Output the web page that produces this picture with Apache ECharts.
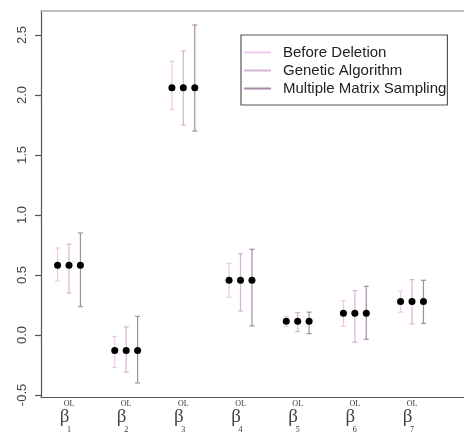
<!DOCTYPE html>
<html><head><meta charset="utf-8">
<script src="https://cdn.jsdelivr.net/npm/echarts@6/dist/echarts.min.js"></script>
<style>html,body{margin:0;padding:0;background:#fff}#c{width:464px;height:434px}</style>
</head><body><div id="c"></div>
<script>
var categories = ['1','2','3','4','5','6','7'];
var seriesNames = ['Before Deletion','Genetic Algorithm','Multiple Matrix Sampling'];
var bdEst  = [0.58, -0.13, 2.06, 0.456, 0.114, 0.18, 0.278];
var bdLow  = [0.45, -0.27, 1.88, 0.314, 0.07, 0.072, 0.19];
var bdHigh = [0.725, -0.014, 2.28, 0.597, 0.153, 0.286, 0.364];
var gaEst  = [0.58, -0.13, 2.06, 0.456, 0.114, 0.18, 0.278];
var gaLow  = [0.35, -0.31, 1.75, 0.20, 0.028, -0.061, 0.092];
var gaHigh = [0.756, 0.067, 2.367, 0.678, 0.186, 0.37, 0.461];
var mmsEst  = [0.58, -0.13, 2.06, 0.456, 0.114, 0.18, 0.278];
var mmsLow  = [0.236, -0.40, 1.70, 0.075, 0.011, -0.036, 0.097];
var mmsHigh = [0.85, 0.155, 2.583, 0.714, 0.19, 0.406, 0.456];
var yTicks = [-0.5, 0, 0.5, 1.0, 1.5, 2.0, 2.5];

var colors = ['#f2c6ee', '#d9b2d6', '#a58ca5'];
var offsets = [-0.2, 0, 0.2];
var ests = [bdEst, gaEst, mmsEst], lows = [bdLow, gaLow, mmsLow], highs = [bdHigh, gaHigh, mmsHigh];

var chart = echarts.init(document.getElementById('c'), null, {renderer: 'canvas'});
var series = [];
seriesNames.forEach(function (name, s) {
  var data = categories.map(function (c, i) { return [i + 1 + offsets[s], lows[s][i], highs[s][i]]; });
  series.push({
    name: name, type: 'custom', itemStyle: {color: colors[s]},
    renderItem: function (params, api) {
      var x = api.value(0);
      var lo = api.coord([x, api.value(1)]);
      var hi = api.coord([x, api.value(2)]);
      var w = 2.5;
      var st = {stroke: colors[s], lineWidth: 1.2};
      return {type: 'group', children: [
        {type: 'line', shape: {x1: lo[0], y1: lo[1], x2: hi[0], y2: hi[1]}, style: st},
        {type: 'line', shape: {x1: lo[0] - w, y1: lo[1], x2: lo[0] + w, y2: lo[1]}, style: st},
        {type: 'line', shape: {x1: hi[0] - w, y1: hi[1], x2: hi[0] + w, y2: hi[1]}, style: st}
      ]};
    },
    encode: {x: 0, y: [1, 2]},
    data: data, z: 2
  });
});
seriesNames.forEach(function (name, s) {
  series.push({
    type: 'scatter', symbol: 'circle', symbolSize: 7,
    itemStyle: {color: '#000', opacity: 1}, z: 5, silent: true,
    data: categories.map(function (c, i) { return [i + 1 + offsets[s], ests[s][i]]; })
  });
});

var xMin = 1 - 28 / 57.17, xMax = xMin + 423 / 57.17;
chart.setOption({
  animation: false,
  grid: {left: 41, top: 11, right: 0, bottom: 37},
  legend: {
    data: seriesNames.map(function (n) { return {name: n, icon: 'rect'}; }),
    orient: 'vertical', left: 241, top: 35,
    itemWidth: 27, itemHeight: 2, itemGap: 3,
    padding: [10, 1, 9, 3],
    borderColor: '#555', borderWidth: 1.2,
    textStyle: {fontFamily: 'Liberation Sans', fontSize: 15, color: '#222', lineHeight: 14.5, padding: [0, 0, 0, 7]}
  },
  xAxis: [{
    type: 'value', min: xMin, max: xMax, position: 'bottom',
    splitLine: {show: false},
    axisLine: {show: true, onZero: false, lineStyle: {color: '#555', width: 1.2}},
    axisTick: {show: false},
    axisLabel: {
      customValues: [1, 2, 3, 4, 5, 6, 7], margin: 2,
      formatter: function (v) { return '{o|OL}\n{b|β}\n{s|' + categories[Math.round(v) - 1] + '}'; },
      rich: {
        o: {fontFamily: 'Liberation Serif', fontSize: 8, lineHeight: 10, color: '#333'},
        b: {fontFamily: 'Liberation Serif', fontSize: 19, lineHeight: 16, color: '#444', padding: [0, 9, 0, 0]},
        s: {fontFamily: 'Liberation Serif', fontSize: 8, lineHeight: 10, color: '#333'}
      }
    }
  }, {
    type: 'value', min: xMin, max: xMax, position: 'top',
    splitLine: {show: false},
    axisLine: {show: true, onZero: false, lineStyle: {color: '#aaa', width: 1.5}},
    axisTick: {show: false}, axisLabel: {show: false}
  }],
  yAxis: {
    type: 'value', min: -0.517, max: 2.7,
    splitLine: {show: false},
    axisLine: {show: true, onZero: false, lineStyle: {color: '#555', width: 1.2}},
    axisTick: {show: true, length: 6, customValues: yTicks, lineStyle: {color: '#555', width: 1.2}},
    axisLabel: {
      customValues: yTicks, rotate: 90, margin: 12,
      fontFamily: 'Liberation Sans', fontSize: 13, color: '#444',
      formatter: function (v) { return v.toFixed(1); }
    }
  },
  series: series
});
</script></body></html>
